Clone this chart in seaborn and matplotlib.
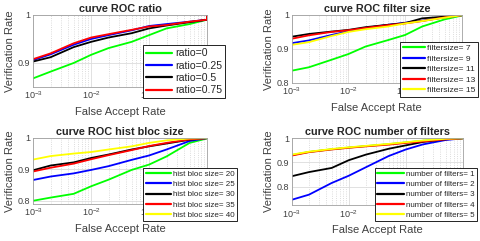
import pandas as pd
import numpy as np
import seaborn as sns
import matplotlib
matplotlib.use('Agg')
import matplotlib.pyplot as plt
from matplotlib.ticker import LogLocator, FixedLocator, NullFormatter

sns.set_style('white')
plt.rcParams['font.family'] = ['Liberation Sans', 'DejaVu Sans']

#false accept rate points where the curves were read
far = [1e-3, 2e-3, 5e-3, 1e-2, 2e-2, 5e-2, 0.1, 0.2, 0.5, 0.99, 1.0]

#panel 1: ratio
ratio_labels = ['ratio=0', 'ratio=0.25', 'ratio=0.5', 'ratio=0.75']
ratio_vr = [
    [0.868, 0.882, 0.900, 0.917, 0.931, 0.944, 0.958, 0.972, 0.981, 0.990, 1.0],
    [0.906, 0.918, 0.938, 0.950, 0.958, 0.968, 0.977, 0.981, 0.986, 0.990, 1.0],
    [0.903, 0.912, 0.933, 0.944, 0.953, 0.962, 0.972, 0.978, 0.985, 0.990, 1.0],
    [0.908, 0.920, 0.941, 0.953, 0.960, 0.969, 0.976, 0.979, 0.986, 0.990, 1.0],
]
ratio_colors = ['#00ff00', '#0000ff', '#000000', '#ff0000']

#panel 2: filter size
filt_labels = ['filtersize= 7', 'filtersize= 9', 'filtersize= 11', 'filtersize= 13', 'filtersize= 15']
filt_vr = [
    [0.836, 0.846, 0.868, 0.885, 0.907, 0.926, 0.941, 0.966, 0.987, 0.998, 1.0],
    [0.917, 0.925, 0.941, 0.952, 0.962, 0.971, 0.977, 0.983, 0.993, 0.999, 1.0],
    [0.936, 0.944, 0.951, 0.956, 0.964, 0.971, 0.976, 0.990, 0.995, 0.999, 1.0],
    [0.930, 0.940, 0.950, 0.955, 0.962, 0.970, 0.975, 0.982, 0.993, 0.999, 1.0],
    [0.912, 0.920, 0.938, 0.950, 0.958, 0.966, 0.975, 0.982, 0.992, 0.999, 1.0],
]
five_colors = ['#00ff00', '#0000ff', '#000000', '#ff0000', '#ffff00']

#panel 3: hist bloc size
hist_labels = ['hist bloc size= 20', 'hist bloc size= 25', 'hist bloc size= 30',
               'hist bloc size= 35', 'hist bloc size= 40']
hist_vr = [
    [0.800, 0.810, 0.822, 0.846, 0.867, 0.898, 0.915, 0.941, 0.984, 0.998, 1.0],
    [0.866, 0.877, 0.887, 0.898, 0.910, 0.930, 0.944, 0.963, 0.990, 0.999, 1.0],
    [0.897, 0.912, 0.922, 0.936, 0.947, 0.963, 0.973, 0.982, 0.994, 0.999, 1.0],
    [0.893, 0.905, 0.918, 0.932, 0.945, 0.961, 0.974, 0.984, 0.995, 0.999, 1.0],
    [0.931, 0.942, 0.950, 0.955, 0.963, 0.973, 0.984, 0.992, 0.998, 0.999, 1.0],
]

#panel 4: number of filters
nf_labels = ['number of filters= 1', 'number of filters= 2', 'number of filters= 3',
             'number of filters= 4', 'number of filters= 5']
nf_vr = [
    [0.930, 0.943, 0.954, 0.961, 0.967, 0.975, 0.982, 0.989, 0.996, 0.999, 1.0],
    [0.746, 0.767, 0.815, 0.845, 0.880, 0.926, 0.953, 0.974, 0.992, 0.999, 1.0],
    [0.843, 0.860, 0.877, 0.909, 0.932, 0.956, 0.970, 0.984, 0.995, 0.999, 1.0],
    [0.928, 0.942, 0.953, 0.960, 0.966, 0.973, 0.980, 0.986, 0.995, 0.999, 1.0],
    [0.932, 0.944, 0.955, 0.962, 0.968, 0.976, 0.983, 0.990, 0.997, 0.999, 1.0],
]

#title, labels, values, colours, ymin, axes box, legend anchor, legend font, spacing, handle
panels = [
    ('curve ROC ratio', ratio_labels, ratio_vr, ratio_colors, 0.85,
     [0.069, 0.639, 0.3625, 0.299], (0.469, 0.813), 7.6, 0.22, 2.4),
    ('curve ROC filter size', filt_labels, filt_vr, five_colors, 0.8,
     [0.608, 0.656, 0.354, 0.282], (0.996, 0.826), 6.1, 0.3, 2.6),
    ('curve ROC hist bloc size', hist_labels, hist_vr, five_colors, 0.79,
     [0.069, 0.154, 0.3625, 0.274], (0.494, 0.303), 5.8, 0.32, 3.1),
    ('curve ROC number of filters', nf_labels, nf_vr, five_colors, 0.724,
     [0.608, 0.149, 0.356, 0.278], (0.994, 0.303), 5.8, 0.32, 3.3),
]

fig = plt.figure(figsize=(4.8, 2.41), dpi=100)

for title, labels, vals, colors, ymin, pos, leg_anchor, lfs, lspace, hlen in panels:
    ax = fig.add_axes(pos)
    rows = []
    for lab, v in zip(labels, vals):
        for f, r in zip(far, v):
            rows.append({'far': f, 'vr': r, 'curve': lab})
    df = pd.DataFrame(rows)
    sns.lineplot(data=df, x='far', y='vr', hue='curve', hue_order=labels,
                 palette=colors, estimator=None, sort=False, linewidth=1.3, ax=ax)
    ax.set_xscale('log')
    ax.set_xlim(1e-3, 1)
    ax.set_ylim(ymin, 1)
    ax.yaxis.set_major_locator(FixedLocator([0.8, 0.9, 1.0]))
    ax.set_yticklabels(['0.8', '0.9', '1'])
    ax.xaxis.set_minor_locator(LogLocator(base=10, subs=np.arange(2, 10)))
    ax.xaxis.set_minor_formatter(NullFormatter())
    ax.grid(True, which='major', color='#dcdcdc', linewidth=0.6)
    ax.grid(True, which='minor', axis='x', color='#d0d0d0', linestyle=':', linewidth=0.6)
    ax.tick_params(labelsize=6.5, colors='#404040', length=0, pad=2)
    for s in ax.spines.values():
        s.set_color('#a0a0a0')
        s.set_linewidth(0.6)
    ax.set_title(title, fontsize=7.8, fontweight='bold', pad=2)
    ax.set_xlabel('False Accept Rate', fontsize=8, color='#404040', labelpad=4)
    ax.set_ylabel('Verification Rate', fontsize=8, color='#404040', labelpad=2)
    leg = ax.legend(loc='upper right', bbox_to_anchor=leg_anchor,
                    bbox_transform=fig.transFigure, fontsize=lfs, frameon=True,
                    fancybox=False, edgecolor='black', framealpha=1,
                    handlelength=hlen, labelspacing=lspace, borderpad=0.3,
                    handletextpad=0.3, borderaxespad=0)
    leg.get_frame().set_linewidth(0.6)
    for line in leg.get_lines():
        line.set_linewidth(1.6)
    leg.set_zorder(10)

fig.savefig('out.png', dpi=100)
